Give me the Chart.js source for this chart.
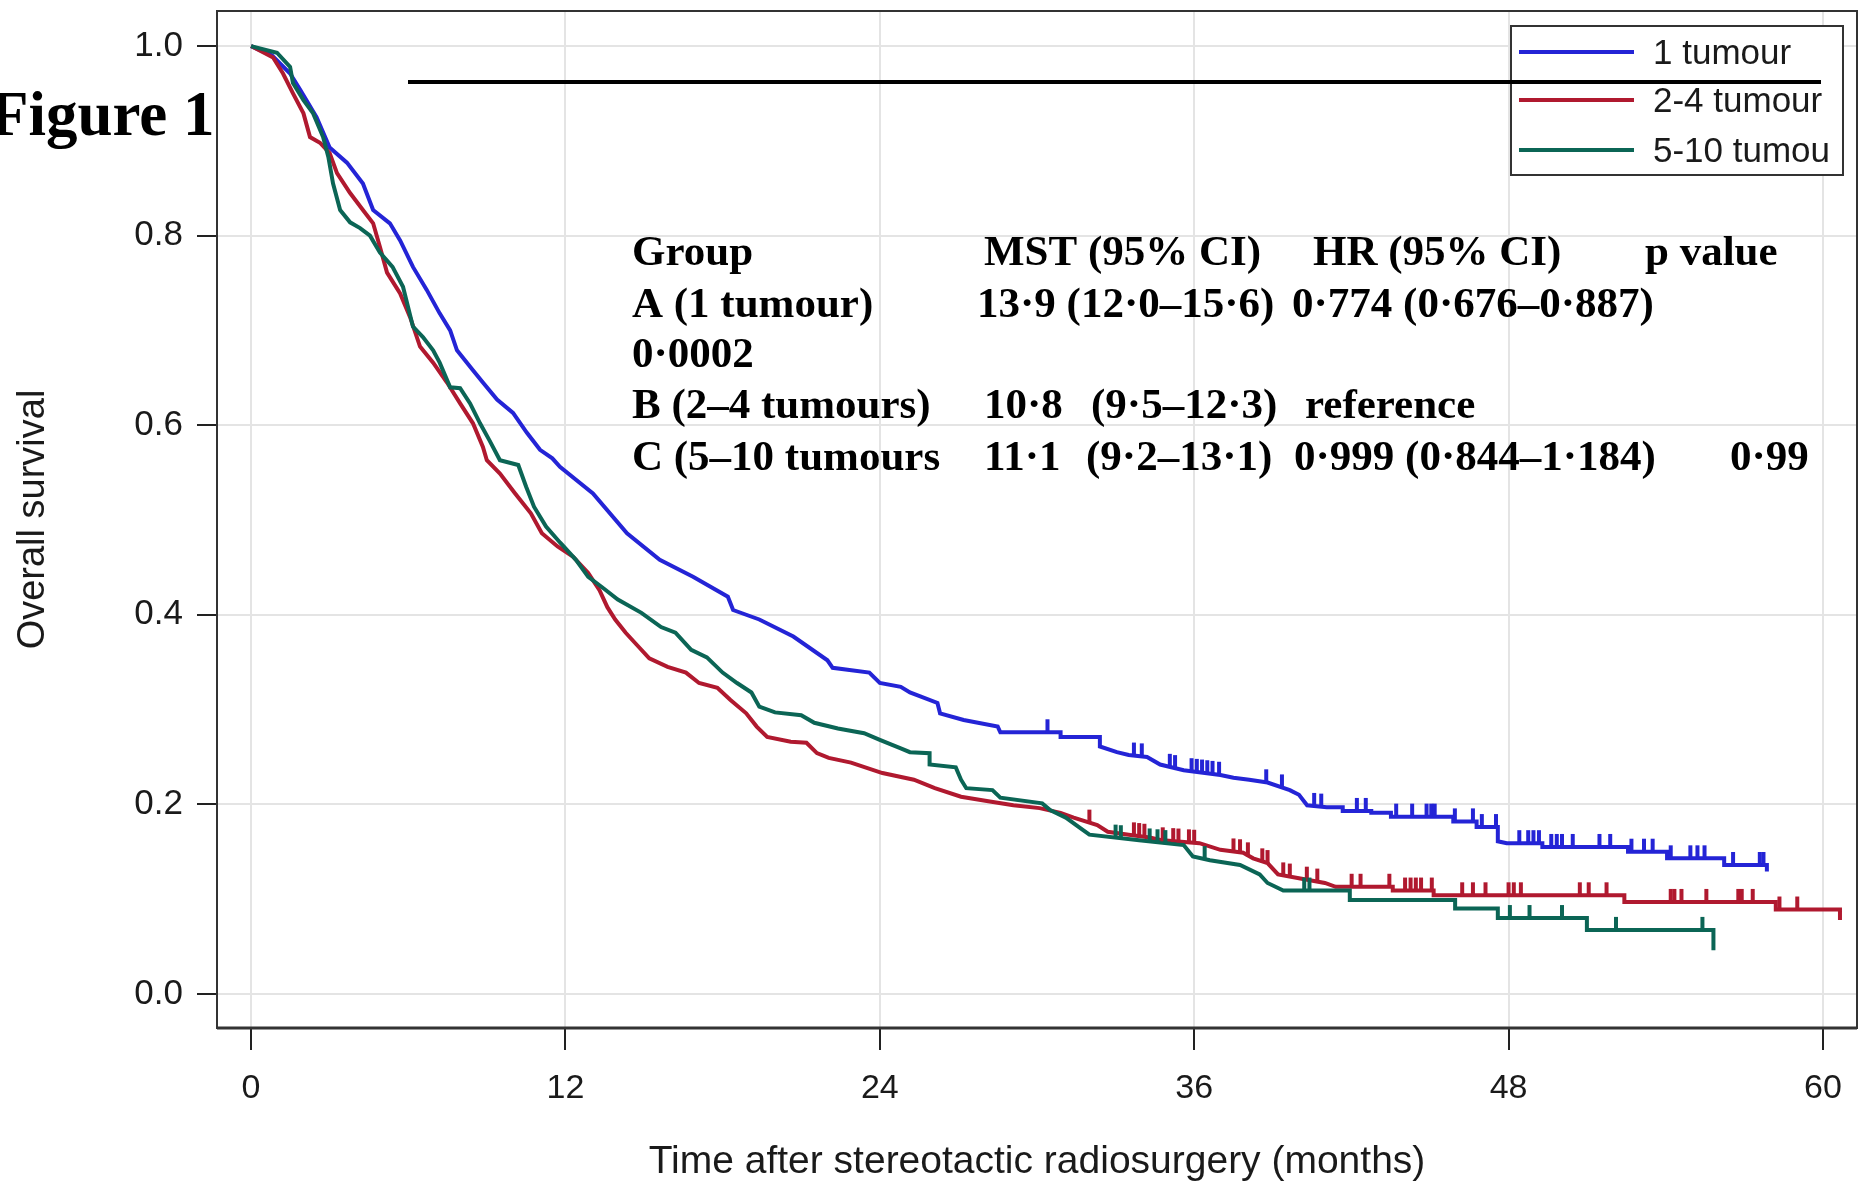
<!DOCTYPE html>
<html>
<head>
<meta charset="utf-8">
<script src="https://cdn.jsdelivr.net/npm/chart.js@4.4.1/dist/chart.umd.min.js"></script>
<style>
  html, body { margin: 0; padding: 0; background: #fff; }
  #wrap { width: 1859px; height: 1186px; }
</style>
</head>
<body>
<div id="wrap"><canvas id="km" width="1859" height="1186"></canvas></div>
<script>
// Ejes y leyenda
const groupLabels = ["1 tumour", "2-4 tumour", "5-10 tumou"];
const xTicks = [0, 12, 24, 36, 48, 60];
const yTicks = [0, 0.2, 0.4, 0.6, 0.8, 1.0];

// Curva 1 tumour (meses, supervivencia)
const oneTime = [0, 0.8, 1.49, 1.87, 2.5, 3.0, 3.66, 4.27, 4.66, 5.3, 5.69, 6.18, 6.7, 7.2, 7.6, 7.86,
  8.47, 8.85, 9.39, 10.0, 10.53, 11.03, 11.5, 11.79, 13.05, 14.35, 15.6, 16.87, 18.2, 18.4, 19.4, 20.7,
  22.0, 22.2, 23.6, 24.0, 24.8, 25.15, 26.2, 26.3, 27.2, 28.5, 28.6, 30.9, 30.9, 32.4, 32.4, 33.05,
  33.5, 34.2, 34.7, 35.6, 37.0, 37.5, 38.1, 38.8, 39.65, 40.0, 40.31, 41.06, 41.67, 41.67, 42.76, 42.76,
  43.51, 43.51, 45.89, 45.89, 46.78, 46.78, 47.59, 47.59, 47.93, 49.29, 49.29, 52.56, 52.56, 54.05,
  54.05, 56.23, 56.23, 57.86, 57.86];
const oneSurv = [1.0, 0.99, 0.971, 0.954, 0.925, 0.893, 0.877, 0.855, 0.827, 0.813, 0.795, 0.767, 0.743, 0.718, 0.70, 0.679,
  0.658, 0.645, 0.627, 0.613, 0.592, 0.574, 0.565, 0.556, 0.528, 0.486, 0.458, 0.44, 0.419, 0.405, 0.395, 0.377,
  0.352, 0.344, 0.339, 0.328, 0.324, 0.318, 0.307, 0.296, 0.289, 0.282, 0.276, 0.276, 0.271, 0.271, 0.261, 0.255,
  0.252, 0.25, 0.242, 0.236, 0.231, 0.228, 0.226, 0.223, 0.215, 0.21, 0.199, 0.197, 0.197, 0.193, 0.193, 0.191,
  0.191, 0.187, 0.187, 0.182, 0.182, 0.176, 0.176, 0.161, 0.159, 0.159, 0.155, 0.155, 0.150, 0.150,
  0.143, 0.143, 0.136, 0.136, 0.129];
const oneCensor = [30.4, 33.7, 34.0, 35.07, 35.27, 35.9, 36.1, 36.3, 36.5, 36.7, 36.95, 38.75, 39.35, 40.58, 40.85,
  42.21, 42.55, 43.71, 44.32, 44.87, 45.05, 45.18, 45.95, 46.64, 46.98, 47.52, 48.41, 48.75, 48.95, 49.16,
  49.63, 49.84, 50.04, 50.45, 51.47, 51.88, 52.69, 53.17, 53.5, 54.19, 54.94, 55.21, 55.48, 56.57, 57.59, 57.73];

// Curva 2-4 tumour
const twoTime = [0, 0.84, 1.22, 1.6, 2.0, 2.25, 2.63, 3.0, 3.28, 3.78, 4.27, 4.66, 4.92, 5.19, 5.69, 6.07,
  6.45, 6.95, 7.48, 7.98, 8.47, 8.85, 9.0, 9.5, 10.08, 10.68, 11.1, 11.7, 12.3, 12.87, 13.3, 13.6, 13.9,
  14.3, 14.8, 15.2, 15.9, 16.6, 17.1, 17.8, 18.3, 18.9, 19.3, 19.7, 20.6, 21.2, 21.6, 22.05, 22.9, 24.1,
  25.3, 26.1, 27.1, 28.2, 29.1, 30.1, 30.9, 31.4, 32.3, 32.7, 33.5, 34.3, 34.8, 36.2, 37.0, 37.87, 38.25,
  38.8, 39.2, 40.0, 40.99, 41.4, 43.58, 43.58, 45.14, 45.14, 52.42, 52.42, 58.2, 58.2, 60.65, 60.65];
const twoSurv = [1.0, 0.988, 0.971, 0.95, 0.929, 0.904, 0.898, 0.887, 0.866, 0.845, 0.827, 0.813, 0.788, 0.761, 0.739, 0.714,
  0.683, 0.666, 0.645, 0.623, 0.602, 0.577, 0.563, 0.549, 0.528, 0.507, 0.486, 0.472, 0.461, 0.444, 0.426, 0.408, 0.395,
  0.381, 0.366, 0.354, 0.345, 0.339, 0.328, 0.323, 0.31, 0.296, 0.282, 0.271, 0.266, 0.265, 0.254, 0.249, 0.244, 0.233,
  0.226, 0.217, 0.208, 0.203, 0.199, 0.196, 0.191, 0.186, 0.178, 0.171, 0.168, 0.165, 0.162, 0.159, 0.152, 0.149, 0.143,
  0.138, 0.126, 0.122, 0.117, 0.113, 0.113, 0.109, 0.109, 0.104, 0.104, 0.097, 0.097, 0.089, 0.089, 0.078];
const twoCensor = [32.0, 33.7, 33.9, 34.1, 34.8, 35.2, 35.4, 35.8, 36.0, 37.5, 37.75, 38.05, 38.6, 38.8, 39.4, 39.65,
  40.3, 40.7, 42.01, 42.35, 43.45, 44.05, 44.26, 44.46, 44.66, 45.07, 46.23, 46.64, 47.12, 48.0, 48.2, 48.47,
  50.72, 51.06, 51.74, 54.19, 54.33, 54.6, 55.55, 56.77, 56.9, 57.32, 58.34, 59.02];

// Curva 5-10 tumours
const fiveTime = [0, 0.99, 1.49, 1.6, 2.0, 2.37, 2.75, 2.95, 3.13, 3.4, 3.78, 4.16, 4.54, 4.92, 5.4, 5.8,
  6.18, 6.56, 6.95, 7.2, 7.6, 7.98, 8.36, 8.74, 9.1, 9.5, 10.2, 10.5, 10.8, 11.26, 11.8, 12.4, 12.87, 13.4,
  14.0, 14.9, 15.65, 16.2, 16.8, 17.4, 18.0, 18.55, 19.1, 19.4, 20.0, 21.0, 21.5, 22.4, 23.4, 24.0, 24.8,
  25.15, 25.9, 25.9, 26.9, 27.1, 27.3, 28.3, 28.6, 30.2, 30.5, 31.1, 31.6, 32.0, 33.9, 35.6, 35.95, 36.6,
  37.75, 38.5, 38.8, 39.4, 41.94, 41.94, 45.96, 45.96, 47.59, 47.59, 50.99, 50.99, 55.82, 55.82];
const fiveSurv = [1.0, 0.993, 0.978, 0.961, 0.943, 0.929, 0.904, 0.883, 0.855, 0.827, 0.814, 0.808, 0.80, 0.782, 0.767, 0.746,
  0.704, 0.693, 0.679, 0.666, 0.64, 0.639, 0.623, 0.602, 0.584, 0.563, 0.558, 0.535, 0.514, 0.493, 0.476, 0.458, 0.44, 0.429,
  0.416, 0.402, 0.387, 0.381, 0.363, 0.355, 0.339, 0.328, 0.318, 0.303, 0.297, 0.294, 0.286, 0.28, 0.275, 0.268, 0.259,
  0.255, 0.254, 0.242, 0.239, 0.226, 0.217, 0.215, 0.207, 0.201, 0.194, 0.186, 0.176, 0.168, 0.162, 0.157, 0.145, 0.141,
  0.136, 0.126, 0.117, 0.109, 0.109, 0.099, 0.099, 0.090, 0.090, 0.080, 0.080, 0.0675, 0.0675, 0.046];
const fiveCensor = [33.0, 33.2, 34.3, 34.6, 34.9, 36.4, 40.2, 40.4, 48.05, 48.8, 50.04, 52.1, 55.4];

// Texto de la tabla
const tableRows = [
  ["Group", "MST (95% CI)", "HR (95% CI)", "p value"],
  ["A (1 tumour)", "13·9 (12·0–15·6)", "0·774 (0·676–0·887)"],
  ["0·0002"],
  ["B (2–4 tumours)", "10·8", "(9·5–12·3)", "reference"],
  ["C (5–10 tumours", "11·1", "(9·2–13·1)", "0·999 (0·844–1·184)", "0·99"]
];

const colors = ["#2424d6", "#b0192f", "#0b6555"];
const curves = [
  { t: oneTime, s: oneSurv, c: oneCensor },
  { t: twoTime, s: twoSurv, c: twoCensor },
  { t: fiveTime, s: fiveSurv, c: fiveCensor }
];

function toPoints(t, s) {
  return t.map((v, i) => ({ x: v, y: s[i] }));
}

// Valor de la curva en el tiempo t (para las marcas de censura)
function survAt(t, s, x) {
  let val = s[0];
  for (let i = 0; i < t.length - 1; i++) {
    if (t[i + 1] > t[i] && x >= t[i] && x <= t[i + 1]) {
      val = s[i] + (s[i + 1] - s[i]) * (x - t[i]) / (t[i + 1] - t[i]);
    }
  }
  return val;
}

const sans = "'Liberation Sans', Arial, sans-serif";
const serif = "'Liberation Serif', 'Times New Roman', serif";

const overlayPlugin = {
  id: "overlay",
  afterDatasetsDraw(chart) {
    const ctx = chart.ctx;
    const xs = chart.scales.x, ys = chart.scales.y;
    ctx.save();
    ctx.lineWidth = 4;
    ctx.lineCap = "butt";
    curves.forEach((cv, k) => {
      ctx.strokeStyle = colors[k];
      cv.c.forEach(tc => {
        const px = xs.getPixelForValue(tc);
        const py = ys.getPixelForValue(survAt(cv.t, cv.s, tc));
        ctx.beginPath();
        ctx.moveTo(px, py + 1);
        ctx.lineTo(px, py - 13);
        ctx.stroke();
      });
    });
    ctx.restore();
  },
  afterDraw(chart) {
    const ctx = chart.ctx;
    const a = chart.chartArea;
    ctx.save();

    // marco
    ctx.strokeStyle = "#333";
    ctx.lineWidth = 2;
    ctx.strokeRect(a.left, a.top, a.right - a.left, a.bottom - a.top);
    ctx.lineWidth = 3;
    ctx.beginPath();
    ctx.moveTo(a.left, a.bottom);
    ctx.lineTo(a.right, a.bottom);
    ctx.stroke();

    // leyenda
    const lx = 1511, ly = 26, lw = 332, lh = 149;
    ctx.fillStyle = "#fff";
    ctx.fillRect(lx, ly, lw, lh);
    ctx.strokeStyle = "#333";
    ctx.lineWidth = 2;
    ctx.strokeRect(lx, ly, lw, lh);
    const rowsY = [52, 100, 150];
    ctx.save();
    ctx.beginPath();
    ctx.rect(lx + 1, ly + 1, lw - 2, lh - 2);
    ctx.clip();
    groupLabels.forEach((lab, i) => {
      ctx.strokeStyle = colors[i];
      ctx.lineWidth = 4;
      ctx.beginPath();
      ctx.moveTo(1519, rowsY[i]);
      ctx.lineTo(1634, rowsY[i]);
      ctx.stroke();
      ctx.fillStyle = "#1a1a1a";
      ctx.font = "35px " + sans;
      ctx.textBaseline = "middle";
      ctx.textAlign = "left";
      ctx.fillText(lab, 1653, rowsY[i] + 2);
    });
    ctx.restore();

    // linea negra
    ctx.strokeStyle = "#000";
    ctx.lineWidth = 4;
    ctx.beginPath();
    ctx.moveTo(408, 82);
    ctx.lineTo(1821, 82);
    ctx.stroke();

    // titulo
    ctx.fillStyle = "#000";
    ctx.textBaseline = "alphabetic";
    ctx.textAlign = "left";
    ctx.font = "bold 63px " + serif;
    ctx.fillText("Figure 1", -10, 135);

    // tabla
    const cellX = [
      [632, 984, 1313, 1645],
      [632, 977, 1292],
      [632],
      [632, 984, 1091, 1305],
      [632, 984, 1086, 1294, 1730]
    ];
    const rowY = [265, 317, 367, 418, 470];
    ctx.font = "bold 43px " + serif;
    tableRows.forEach((row, r) => {
      row.forEach((txt, c) => ctx.fillText(txt, cellX[r][c], rowY[r]));
    });

    ctx.restore();
  }
};

new Chart(document.getElementById("km"), {
  type: "line",
  data: {
    datasets: curves.map((cv, k) => ({
      label: groupLabels[k],
      data: toPoints(cv.t, cv.s),
      borderColor: colors[k],
      borderWidth: 4,
      pointRadius: 0,
      tension: 0,
      fill: false,
      order: 3 - k
    }))
  },
  options: {
    responsive: false,
    animation: false,
    devicePixelRatio: 1,
    layout: { padding: { top: 11, right: 2, left: 0, bottom: 0 } },
    plugins: { legend: { display: false }, tooltip: { enabled: false } },
    scales: {
      x: {
        type: "linear",
        min: -1.3,
        max: 61.3,
        afterBuildTicks: s => { s.ticks = xTicks.map(v => ({ value: v })); },
        afterFit: s => { s.height = 158; s.paddingLeft = 0; s.paddingRight = 0; },
        ticks: {
          color: "#1a1a1a",
          font: { family: sans, size: 34 },
          padding: 18,
          maxRotation: 0,
          callback: v => String(v)
        },
        grid: { color: "#e4e4e4", lineWidth: 2, tickColor: "#222", tickWidth: 2, tickLength: 22 },
        border: { display: false },
        title: {
          display: true,
          text: "Time after stereotactic radiosurgery (months)",
          color: "#1a1a1a",
          font: { family: sans, size: 39 },
          padding: { top: 0, bottom: 0 }
        }
      },
      y: {
        type: "linear",
        min: -0.036,
        max: 1.037,
        afterBuildTicks: s => { s.ticks = yTicks.map(v => ({ value: v })); },
        afterFit: s => { s.width = 217; s.paddingTop = 0; s.paddingBottom = 0; },
        ticks: {
          color: "#1a1a1a",
          font: { family: sans, size: 35 },
          padding: 14,
          callback: v => v.toFixed(1)
        },
        grid: { color: "#e4e4e4", lineWidth: 2, tickColor: "#222", tickWidth: 2, tickLength: 20 },
        border: { display: false },
        title: {
          display: true,
          text: "Overall survival",
          color: "#1a1a1a",
          font: { family: sans, size: 38 },
          padding: { top: 11, bottom: 0 }
        }
      }
    }
  },
  plugins: [overlayPlugin]
});
</script>
</body>
</html>
